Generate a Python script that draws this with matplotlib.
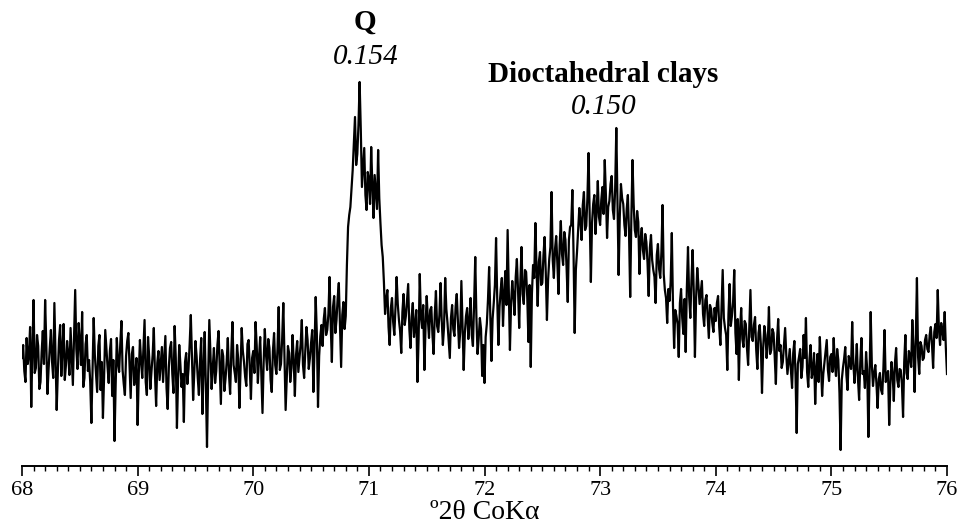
#!/usr/bin/env python3
"""
XRD trace, 68-76 deg 2theta CoKa, showing quartz and dioctahedral clay 060 reflections
"""

import numpy as np
import matplotlib
matplotlib.use('Agg')
import matplotlib.pyplot as plt
from matplotlib.ticker import MultipleLocator

# scan range (deg 2theta) and intensities (arb. units, step 0.01 deg)
theta_start = 68.0
theta_end = 76.0
counts = [
    108, 121, 95, 84, 128, 102, 112, 139, 59, 117, 166, 93, 98, 131, 120, 77, 84, 114, 135, 102,
    166, 123, 72, 97, 118, 136, 104, 88, 163, 110, 56, 94, 126, 141, 90, 118, 142, 86, 101, 125,
    112, 91, 138, 109, 81, 129, 176, 117, 97, 143, 124, 101, 154, 79, 88, 122, 131, 95, 106, 84,
    43, 96, 148, 111, 92, 74, 120, 131, 76, 104, 48, 89, 136, 117, 99, 83, 115, 127, 70, 106,
    25, 81, 128, 103, 94, 122, 145, 96, 82, 71, 110, 125, 133, 99, 68, 112, 119, 81, 90, 108,
    41, 92, 126, 105, 88, 117, 146, 84, 71, 129, 109, 77, 95, 111, 138, 92, 60, 103, 115, 86,
    102, 119, 84, 107, 130, 78, 57, 99, 118, 124, 92, 73, 140, 108, 38, 87, 121, 101, 79, 92,
    44, 104, 113, 82, 97, 122, 151, 108, 66, 93, 125, 110, 88, 71, 106, 128, 52, 96, 134, 81,
    19, 88, 146, 112, 77, 99, 118, 83, 95, 121, 135, 97, 62, 116, 110, 75, 87, 104, 128, 92,
    72, 113, 144, 101, 93, 84, 121, 107, 58, 96, 138, 115, 104, 89, 80, 122, 126, 98, 67, 108,
    115, 93, 144, 120, 83, 109, 129, 91, 53, 104, 137, 112, 96, 127, 118, 86, 74, 115, 133, 101,
    92, 118, 159, 96, 102, 127, 163, 108, 56, 89, 120, 113, 84, 98, 131, 105, 70, 111, 125, 94,
    108, 122, 146, 101, 88, 115, 139, 126, 97, 108, 123, 136, 74, 118, 169, 132, 59, 110, 130, 141,
    120, 147, 158, 131, 136, 152, 189, 141, 104, 159, 170, 133, 146, 168, 183, 142, 99, 151, 164, 137,
    150, 201, 239, 251, 259, 278, 296, 322, 349, 301, 312, 341, 384, 337, 279, 298, 318, 271, 256, 294,
    287, 262, 319, 281, 248, 291, 274, 257, 316, 268, 243, 221, 209, 184, 152, 167, 176, 139, 121, 158,
    168, 144, 131, 158, 189, 162, 146, 135, 113, 154, 172, 141, 150, 166, 182, 137, 118, 149, 163, 129,
    141, 156, 84, 127, 192, 149, 138, 161, 96, 139, 170, 147, 128, 156, 159, 131, 112, 152, 175, 140,
    134, 151, 183, 146, 121, 139, 188, 157, 143, 126, 108, 148, 161, 137, 130, 159, 172, 145, 118, 134,
    185, 141, 96, 133, 150, 158, 127, 144, 168, 131, 120, 162, 209, 149, 112, 128, 148, 137, 90, 121,
    83, 129, 142, 166, 199, 154, 105, 147, 163, 181, 228, 168, 121, 159, 176, 188, 140, 172, 195, 161,
    236, 178, 116, 163, 185, 170, 151, 189, 207, 176, 138, 184, 219, 172, 162, 196, 194, 168, 124, 181,
    99, 172, 201, 188, 243, 197, 160, 204, 214, 181, 183, 211, 229, 193, 146, 186, 207, 219, 274, 206,
    188, 217, 230, 203, 172, 221, 245, 212, 201, 234, 226, 198, 164, 226, 239, 241, 276, 213, 133, 196,
    214, 237, 258, 244, 226, 261, 274, 236, 240, 268, 313, 251, 184, 243, 262, 271, 232, 255, 285, 249,
    241, 266, 279, 252, 306, 271, 228, 259, 265, 282, 290, 256, 247, 277, 338, 262, 191, 249, 282, 268,
    262, 241, 230, 257, 271, 233, 169, 248, 306, 262, 236, 229, 255, 244, 192, 227, 238, 216, 207, 232,
    224, 203, 170, 218, 231, 206, 196, 189, 163, 211, 222, 197, 188, 214, 261, 192, 176, 168, 143, 177,
    165, 184, 233, 161, 118, 156, 150, 142, 109, 163, 177, 148, 132, 167, 114, 178, 219, 169, 148, 186,
    216, 174, 109, 168, 198, 181, 162, 173, 185, 152, 140, 166, 171, 149, 128, 161, 157, 143, 134, 158,
    145, 163, 170, 139, 121, 157, 196, 148, 138, 131, 96, 152, 182, 140, 150, 164, 196, 133, 112, 147,
    86, 136, 158, 127, 119, 145, 142, 118, 101, 138, 176, 129, 125, 141, 149, 116, 97, 133, 141, 122,
    73, 118, 140, 131, 108, 124, 159, 112, 116, 137, 133, 109, 82, 126, 147, 115, 121, 98, 104, 121,
    138, 111, 92, 104, 117, 96, 78, 113, 125, 91, 33, 102, 109, 117, 88, 99, 131, 108, 148, 94,
    79, 106, 121, 88, 95, 113, 62, 97, 112, 84, 129, 101, 70, 92, 103, 115, 126, 96, 85, 109,
    112, 94, 128, 102, 90, 117, 106, 73, 16, 86, 98, 107, 119, 91, 76, 110, 104, 97, 144, 103,
    83, 99, 122, 87, 66, 104, 128, 92, 95, 78, 114, 96, 29, 88, 154, 101, 80, 93, 101, 82,
    58, 87, 93, 76, 72, 98, 136, 84, 88, 95, 41, 81, 104, 92, 65, 103, 118, 86, 79, 97,
    96, 82, 49, 104, 131, 93, 87, 115, 110, 99, 146, 118, 74, 127, 188, 109, 92, 124, 120, 106,
    108, 126, 131, 117, 114, 131, 139, 122, 98, 134, 142, 128, 176, 137, 121, 143, 135, 126, 154, 118,
    92,
]
major_ticks = [68, 69, 70, 71, 72, 73, 74, 75, 76]

# peak labels: position (deg), name, d-spacing (nm)
peak_pos = [70.97, 73.03]
peak_names = ['Q', 'Dioctahedral clays']
peak_d = ['0.154', '0.150']

plt.rcParams['font.family'] = ['Liberation Serif', 'DejaVu Serif']

two_theta = np.linspace(theta_start, theta_end, len(counts))

fig = plt.figure(figsize=(9.57, 5.26), dpi=100)
ax = fig.add_axes([22 / 957, 60 / 526, 925 / 957, 466 / 526])

ax.plot(two_theta, counts, color='black', linewidth=1.6)

ax.set_xlim(theta_start, theta_end)
ax.set_ylim(0, 466)

# only the bottom axis is shown
for side in ['left', 'right', 'top']:
    ax.spines[side].set_visible(False)
ax.spines['bottom'].set_linewidth(1.4)
ax.set_yticks([])
ax.set_xticks(major_ticks)
ax.set_xticklabels([str(t) for t in major_ticks])
ax.xaxis.set_minor_locator(MultipleLocator(0.1))
ax.tick_params(axis='x', which='major', direction='out', length=7, width=1.2,
               labelsize=16, pad=4)
ax.tick_params(axis='x', which='minor', direction='out', length=3.5, width=1.0)
ax.set_xlabel('º2θ CoKα', fontsize=20, labelpad=0)

# annotations above the peaks
name_y = [444, 391]
d_y = [409, 359]
for pos, name, d, ny, dy in zip(peak_pos, peak_names, peak_d, name_y, d_y):
    ax.text(pos, ny, name, ha='center', va='center', fontsize=21,
            fontweight='bold', clip_on=False)
    ax.text(pos, dy, d, ha='center', va='center', fontsize=21,
            fontstyle='italic', clip_on=False)

fig.savefig('out.png', dpi=100)
plt.close(fig)
